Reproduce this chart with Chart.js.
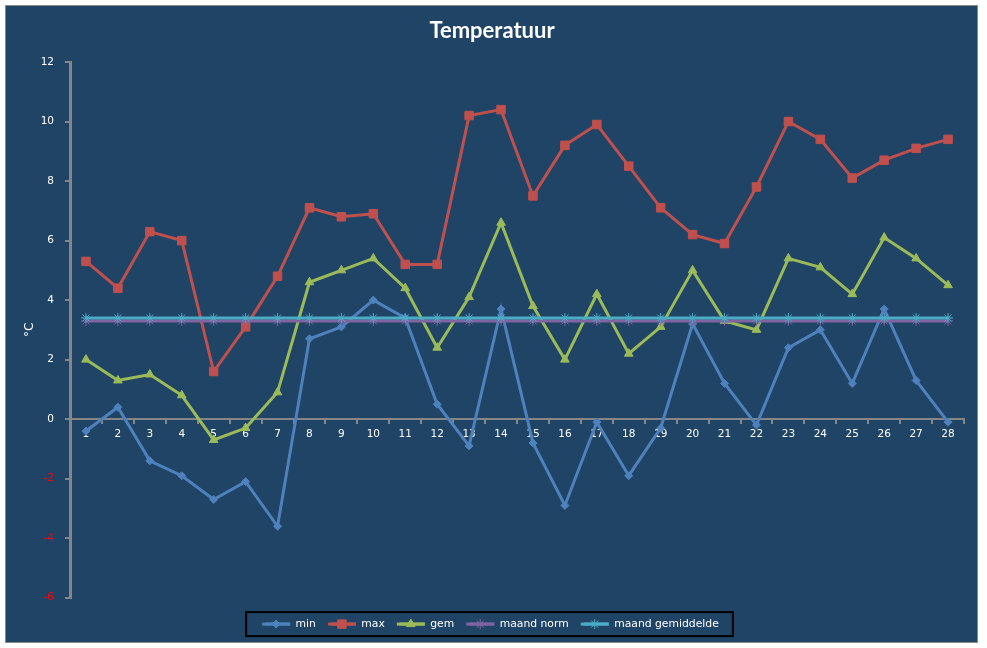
<!DOCTYPE html>
<html><head><meta charset="utf-8">
<script src="https://cdn.jsdelivr.net/npm/chart.js@4/dist/chart.umd.min.js"></script>
<style>html,body{margin:0;padding:0;background:#fff;}canvas{display:block;}</style>
</head><body>
<canvas id="c" width="987" height="648"></canvas>
<script>
const days = ['1','2','3','4','5','6','7','8','9','10','11','12','13','14','15','16','17','18','19','20','21','22','23','24','25','26','27','28'];
const minTemp = [-0.4,0.4,-1.4,-1.9,-2.7,-2.1,-3.6,2.7,3.1,4.0,3.4,0.5,-0.9,3.7,-0.8,-2.9,-0.1,-1.9,-0.3,3.2,1.2,-0.2,2.4,3.0,1.2,3.7,1.3,-0.1];
const maxTemp = [5.3,4.4,6.3,6.0,1.6,3.1,4.8,7.1,6.8,6.9,5.2,5.2,10.2,10.4,7.5,9.2,9.9,8.5,7.1,6.2,5.9,7.8,10.0,9.4,8.1,8.7,9.1,9.4];
const gemTemp = [2.0,1.3,1.5,0.8,-0.7,-0.3,0.9,4.6,5.0,5.4,4.4,2.4,4.1,6.6,3.8,2.0,4.2,2.2,3.1,5.0,3.3,3.0,5.4,5.1,4.2,6.1,5.4,4.5];
const maandNorm = [3.3,3.3,3.3,3.3,3.3,3.3,3.3,3.3,3.3,3.3,3.3,3.3,3.3,3.3,3.3,3.3,3.3,3.3,3.3,3.3,3.3,3.3,3.3,3.3,3.3,3.3,3.3,3.3];
const maandGem = [3.4,3.4,3.4,3.4,3.4,3.4,3.4,3.4,3.4,3.4,3.4,3.4,3.4,3.4,3.4,3.4,3.4,3.4,3.4,3.4,3.4,3.4,3.4,3.4,3.4,3.4,3.4,3.4];
const yTicks = {min: -6, max: 12, step: 2};

const BG = '#1f4466';
const AXIS = '#868686';
const LEG_BOX = 25;
const LEG_EXT = 3;

const bgPlugin = {
  id: 'bg',
  beforeDraw(chart) {
    const ctx = chart.ctx;
    ctx.save();
    ctx.fillStyle = '#ffffff';
    ctx.fillRect(0, 0, chart.width, chart.height);
    ctx.fillStyle = BG;
    ctx.fillRect(5, 5, 973, 638);
    ctx.strokeStyle = '#8a8a8a';
    ctx.lineWidth = 1;
    ctx.strokeRect(5.5, 5.5, 972, 637);
    ctx.restore();
  }
};

const legendDeco = {
  id: 'legendDeco',
  afterDraw(chart) {
    const lg = chart.legend;
    if (!lg || !lg.legendHitBoxes || !lg.legendHitBoxes.length) return;
    const ctx = chart.ctx;
    const bw = lg.options.labels.boxWidth;
    const boxes = lg.legendHitBoxes;
    ctx.save();
    lg.legendItems.forEach((item, i) => {
      const hb = boxes[i];
      const ds = chart.data.datasets[item.datasetIndex];
      const cy = hb.top + hb.height / 2;
      ctx.fillStyle = ds.borderColor;
      ctx.fillRect(hb.left - LEG_EXT, cy - 1.5, bw + LEG_EXT, 3);
      const cx = hb.left + (bw - LEG_EXT) / 2;
      ctx.strokeStyle = ds.borderColor;
      ctx.lineWidth = 1;
      Chart.helpers.drawPoint(ctx, {pointStyle: ds.pointStyle, radius: ds.pointRadius, borderWidth: 1, rotation: 0}, cx, cy);
    });
    let l = Infinity, r = -Infinity, cyAll = 0;
    boxes.forEach(b => { l = Math.min(l, b.left); r = Math.max(r, b.left + b.width); cyAll = b.top + b.height / 2; });
    ctx.strokeStyle = '#000000';
    ctx.lineWidth = 2;
    ctx.strokeRect(l - LEG_EXT - 16, cyAll - 12, (r - l) + LEG_EXT + 30, 24);
    ctx.restore();
  }
};

const mk = (label, data, color, style, radius, lw) => ({
  label, data,
  borderColor: color, backgroundColor: color,
  pointBackgroundColor: color, pointBorderColor: color,
  pointStyle: style, pointRadius: radius, pointHoverRadius: radius,
  pointBorderWidth: 1,
  borderWidth: lw, tension: 0, fill: false
});

const datasets = [
  mk('min', minTemp, '#4f81bd', 'rectRot', 4, 3),
  mk('max', maxTemp, '#c0504d', 'rect', 6, 3),
  mk('gem', gemTemp, '#9bbb59', 'triangle', 5, 3),
  mk('maand norm', maandNorm, '#8064a2', 'star', 5, 3),
  mk('maand gemiddelde', maandGem, '#4bacc6', 'star', 5, 3)
];
datasets.forEach((d, i) => { d.order = datasets.length - i; });

new Chart(document.getElementById('c'), {
  type: 'line',
  data: {labels: days, datasets},
  plugins: [bgPlugin, legendDeco],
  options: {
    responsive: false,
    devicePixelRatio: 1,
    animation: false,
    layout: {padding: {left: 20, right: 23, top: 0, bottom: 8.5}},
    plugins: {
      tooltip: {enabled: false},
      title: {
        display: true, text: 'Temperatuur', color: '#ffffff',
        font: {family: 'Lato', size: 22, weight: 'bold'},
        padding: {top: 18, bottom: 17.6}
      },
      legend: {
        display: true, position: 'bottom',
        title: {display: true, text: ' ', font: {size: 1, lineHeight: 1}, padding: {top: 5, bottom: 0}},
        labels: {
          color: '#ffffff', font: {family: 'DejaVu Sans', size: 10.8},
          boxWidth: LEG_BOX, boxHeight: 3, padding: 15,
          sort: (a, b) => a.datasetIndex - b.datasetIndex,
          generateLabels(chart) {
            return chart.data.datasets.map((ds, i) => ({
              text: ds.label, fillStyle: ds.borderColor, strokeStyle: ds.borderColor,
              lineWidth: 0, fontColor: '#ffffff', hidden: false, datasetIndex: i
            }));
          }
        }
      }
    },
    scales: {
      x: {
        type: 'category', position: {y: 0}, offset: true,
        grid: {display: true, drawOnChartArea: false, drawTicks: true, tickLength: 4, color: AXIS, lineWidth: 2, offset: true},
        border: {display: true, color: AXIS, width: 2},
        ticks: {color: '#ffffff', font: {family: 'DejaVu Sans', size: 10.5}, padding: 5, maxRotation: 0, autoSkip: false}
      },
      y: {
        min: yTicks.min, max: yTicks.max,
        ticks: {
          stepSize: yTicks.step, padding: 11,
          color: (c) => (c.tick && c.tick.value < 0) ? '#ff0000' : '#ffffff',
          font: {family: 'DejaVu Sans', size: 10.5}
        },
        grid: {display: true, drawOnChartArea: false, drawTicks: true, tickLength: 5, color: AXIS, lineWidth: 2},
        border: {display: true, color: AXIS, width: 3},
        title: {display: true, text: '°C', color: '#ffffff', font: {family: 'DejaVu Sans', size: 12}, padding: {top: 3, bottom: 0}},
        afterFit(s) { s.width = 50; }
      }
    }
  }
});
</script>
</body></html>
